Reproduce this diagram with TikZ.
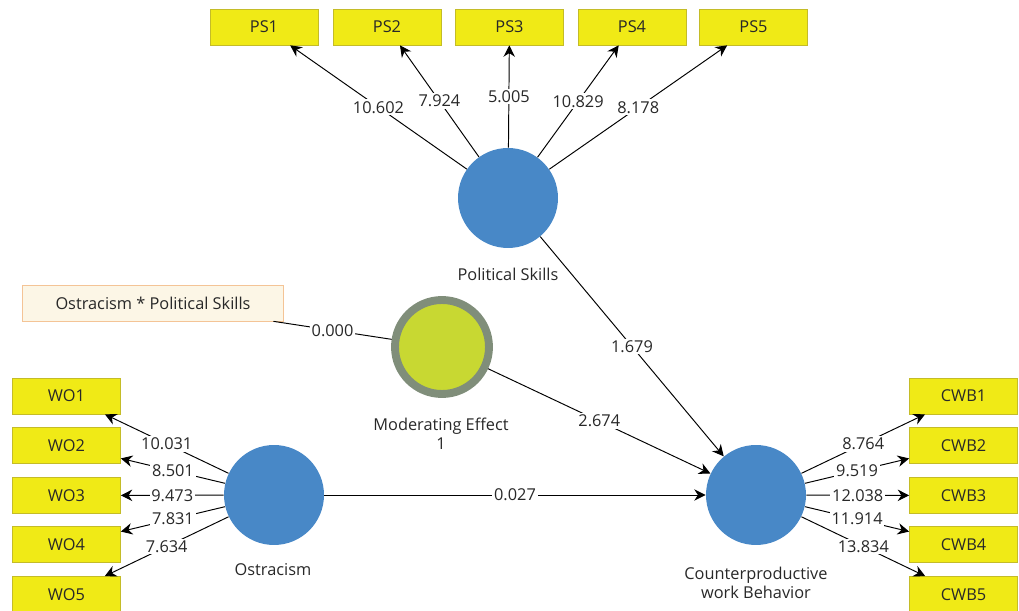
\documentclass[tikz,border=0pt]{standalone}
\usepackage{fontspec}
\setmainfont{Open Sans}
\usepackage{xcolor}
\usepackage{tikz}
\usetikzlibrary{arrows.meta}

\definecolor{indyellow}{RGB}{240,234,22}
\definecolor{indborder}{RGB}{196,188,40}
\definecolor{lvblue}{RGB}{72,136,199}
\definecolor{modgreen}{RGB}{200,216,50}
\definecolor{modring}{RGB}{128,142,122}
\definecolor{intfill}{RGB}{252,246,230}
\definecolor{intborder}{RGB}{244,196,150}
\definecolor{txtgray}{RGB}{40,40,40}

\tikzset{
  indbox/.style={rectangle,draw=indborder,fill=indyellow,minimum width=2.16cm,minimum height=0.72cm,inner sep=0pt,text=txtgray},
  lv/.style={circle,fill=lvblue,minimum size=2cm,inner sep=0pt},
  lbl/.style={fill=white,inner sep=1pt,text=txtgray},
  lvname/.style={text=txtgray,align=center,font=\fontsize{9.3}{10.8}\selectfont},
  load/.style={draw=black,line width=0.55pt,-{Stealth[length=6.5pt,width=6.5pt]}}
}

\begin{document}
\begin{tikzpicture}[x=0.02cm,y=-0.02cm,font=\fontsize{9.3}{11}\selectfont]
\useasboundingbox (0,0) rectangle (1019,611);

\node (ps) at (508,198) [lv] {};										% Political Skills
\node (wo) at (274,495) [lv] {};										% Ostracism
\node (cwb) at (756,495) [lv] {};										% CWB
\node (mod) at (442,347) [circle,draw=modring,line width=4.5pt,fill=modgreen,minimum size=1.88cm,inner sep=0pt] {}; % Moderating effect
\node (inter) at (153,303) [rectangle,draw=intborder,fill=intfill,minimum width=5.22cm,minimum height=0.72cm,text=txtgray] {Ostracism * Political Skills};

\node (psname) at (508,274) [lvname] {Political Skills};
\node (woname) at (273,570) [lvname] {Ostracism};
\node (cwbname) at (756,583) [lvname] {Counterproductive\\work Behavior};
\node (modname) at (441,434) [lvname] {Moderating Effect\\1};

\node (ps1) at (264,27) [indbox] {PS1};
\node (ps2) at (387,27) [indbox] {PS2};
\node (ps3) at (509.5,27) [indbox] {PS3};
\node (ps4) at (632,27) [indbox] {PS4};
\node (ps5) at (753.5,27) [indbox] {PS5};

\node (wo1) at (66.5,396) [indbox] {WO1};
\node (wo2) at (66.5,445.5) [indbox] {WO2};
\node (wo3) at (66.5,495.5) [indbox] {WO3};
\node (wo4) at (66.5,544.5) [indbox] {WO4};
\node (wo5) at (66.5,594.5) [indbox] {WO5};

\node (cwb1) at (963.5,396) [indbox] {CWB1};
\node (cwb2) at (963.5,445.5) [indbox] {CWB2};
\node (cwb3) at (963.5,495.5) [indbox] {CWB3};
\node (cwb4) at (963.5,544.5) [indbox] {CWB4};
\node (cwb5) at (963.5,594.5) [indbox] {CWB5};

% outer loadings Political Skills
\draw[load] (ps) -- node[lbl] {10.602} (ps1);
\draw[load] (ps) -- node[lbl] {7.924} (ps2);
\draw[load] (ps) -- node[lbl] {5.005} (ps3);
\draw[load] (ps) -- node[lbl] {10.829} (ps4);
\draw[load] (ps) -- node[lbl] {8.178} (ps5);

% outer loadings Ostracism
\draw[load] (wo) -- node[lbl] {10.031} (wo1);
\draw[load] (wo) -- node[lbl] {8.501} (wo2);
\draw[load] (wo) -- node[lbl] {9.473} (wo3);
\draw[load] (wo) -- node[lbl] {7.831} (wo4);
\draw[load] (wo) -- node[lbl] {7.634} (wo5);

% outer loadings CWB
\draw[load] (cwb) -- node[lbl] {8.764} (cwb1);
\draw[load] (cwb) -- node[lbl] {9.519} (cwb2);
\draw[load] (cwb) -- node[lbl] {12.038} (cwb3);
\draw[load] (cwb) -- node[lbl] {11.914} (cwb4);
\draw[load] (cwb) -- node[lbl] {13.834} (cwb5);

% interaction term
\draw[line width=0.55pt] (mod) -- node[lbl] {0.000} (inter);

% inner model
\draw[load] (ps) -- node[lbl] {1.679} (cwb);
\draw[load] (mod) -- node[lbl] {2.674} (cwb);
\draw[load] (wo) -- node[lbl] {0.027} (cwb);

\end{tikzpicture}
\end{document}
